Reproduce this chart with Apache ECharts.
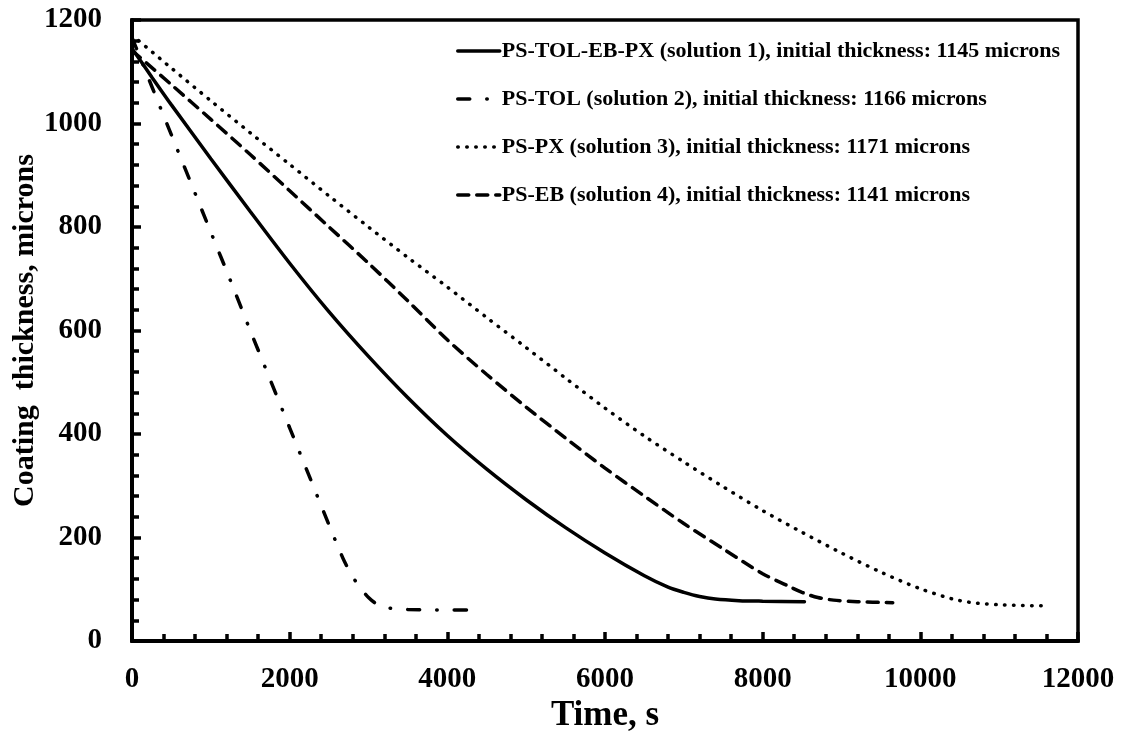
<!DOCTYPE html>
<html>
<head>
<meta charset="utf-8">
<title>Coating thickness vs time</title>
<script src="https://cdn.jsdelivr.net/npm/echarts@6/dist/echarts.min.js"></script>
<style>
    html, body { margin: 0; padding: 0; background: #fff; }
    #main { width: 1125px; height: 732px; }
</style>
</head>
<body>
<div id="main"></div>
<script>
// axis ticks
const xTicks = [0, 2000, 4000, 6000, 8000, 10000, 12000];
const yTicks = [0, 200, 400, 600, 800, 1000, 1200];

// legend names
const seriesNames = [
    'PS-TOL-EB-PX (solution 1), initial thickness: 1145 microns',
    'PS-TOL (solution 2), initial thickness: 1166 microns',
    'PS-PX (solution 3), initial thickness: 1171 microns',
    'PS-EB (solution 4), initial thickness: 1141 microns'
];

// solution 1 : PS-TOL-EB-PX
const s1Time = [0, 250, 500, 1000, 1500, 2000, 2500, 3000, 3500, 4000, 4500, 5000, 5500, 6000, 6500, 6800, 7000, 7200, 7400, 7700, 8000, 8530];
const s1Thick = [1145, 1090, 1036, 932, 830, 730, 636, 550, 470, 397, 332, 273, 219, 170, 126, 104, 94, 86, 81, 78, 77, 76];

// solution 2 : PS-TOL
const s2Time = [0, 250, 500, 750, 1000, 1250, 1500, 1750, 2000, 2250, 2500, 2600, 2700, 2800, 2900, 3000, 3100, 3250, 3500, 4000, 4300];
const s2Thick = [1166, 1072, 978, 884, 790, 696, 600, 506, 412, 318, 224, 187, 152, 124, 102, 84, 72, 64, 61, 60, 60];

// solution 3 : PS-PX
const s3Time = [0, 500, 1000, 1500, 2000, 2500, 3000, 3500, 4000, 4500, 5000, 5500, 6000, 6500, 7000, 7500, 8000, 8500, 9000, 9500, 10000, 10500, 11000, 11620];
const s3Thick = [1171, 1107, 1044, 982, 921, 860, 800, 741, 684, 625, 567, 508, 450, 396, 346, 298, 252, 210, 170, 133, 101, 78, 70, 68];

// solution 4 : PS-EB
const s4Time = [0, 500, 1000, 1500, 2000, 2500, 3000, 3500, 4000, 4500, 5000, 5500, 6000, 6500, 7000, 7500, 8000, 8300, 8500, 8700, 8900, 9200, 9650];
const s4Thick = [1141, 1075, 1008, 940, 870, 800, 730, 657, 582, 515, 452, 392, 334, 280, 227, 178, 130, 108, 94, 84, 79, 76, 74];

function pairs(t, v) {
    return t.map(function (x, i) { return [x, v[i]]; });
}

const FONT = 'Liberation Serif';

// line dash patterns (round caps)
const styles = [
    { type: 'solid', width: 3.5 },
    { type: [12, 17, 0.5, 17], width: 3.5 },
    { type: [0.5, 8.5], width: 3.5 },
    { type: [11, 8], width: 3.5 }
];
const data = [pairs(s1Time, s1Thick), pairs(s2Time, s2Thick), pairs(s3Time, s3Thick), pairs(s4Time, s4Thick)];

const chart = echarts.init(document.getElementById('main'));

function plainNumber(v) {
    return String(v);
}

const option = {
    animation: false,
    backgroundColor: '#fff',
    grid: {
        left: 132, right: 47, top: 20, bottom: 91,
        containLabel: false,
        outerBoundsMode: 'none',
        show: true, borderColor: '#000', borderWidth: 3.5
    },
    legend: {
        orient: 'vertical',
        left: 451, top: 35,
        itemWidth: 42, itemHeight: 14, itemGap: 26,
        itemStyle: { opacity: 0 },
        lineStyle: { width: 3.5 },
        textStyle: { fontFamily: FONT, fontWeight: 'bold', fontSize: 22, color: '#000', padding: [0, 0, 0, -3] },
        data: seriesNames
    },
    xAxis: {
        type: 'value',
        min: xTicks[0], max: xTicks[xTicks.length - 1], interval: 2000,
        name: 'Time, s', nameLocation: 'middle', nameGap: 55,
        nameTextStyle: { fontFamily: FONT, fontWeight: 'bold', fontSize: 35, color: '#000' },
        axisLine: { lineStyle: { color: '#000', width: 4 } },
        axisTick: { inside: true, length: 9, lineStyle: { color: '#000', width: 3.5 } },
        minorTick: { show: true, splitNumber: 5, length: 7, lineStyle: { color: '#000', width: 3.5 } },
        splitLine: { show: false },
        axisLabel: { margin: 24, fontFamily: FONT, fontWeight: 'bold', fontSize: 29, color: '#000', formatter: plainNumber }
    },
    yAxis: {
        type: 'value',
        min: yTicks[0], max: yTicks[yTicks.length - 1], interval: 200,
        name: 'Coating  thickness, microns', nameLocation: 'middle', nameGap: 92,
        nameMoveOverlap: false,
        nameTextStyle: { fontFamily: FONT, fontWeight: 'bold', fontSize: 30, color: '#000' },
        axisLine: { lineStyle: { color: '#000', width: 4 } },
        axisTick: { inside: true, length: 9, lineStyle: { color: '#000', width: 3.5 } },
        minorTick: { show: true, splitNumber: 5, length: 7, lineStyle: { color: '#000', width: 3.5 } },
        splitLine: { show: false },
        axisLabel: { margin: 30, fontFamily: FONT, fontWeight: 'bold', fontSize: 29, color: '#000', formatter: plainNumber }
    },
    series: seriesNames.map(function (name, i) {
        return {
            name: name,
            type: 'line',
            data: data[i],
            symbol: 'none',
            smooth: 0.3,
            color: '#000',
            lineStyle: { color: '#000', width: styles[i].width, type: styles[i].type, cap: 'round' }
        };
    })
};

chart.setOption(option);
</script>
</body>
</html>
